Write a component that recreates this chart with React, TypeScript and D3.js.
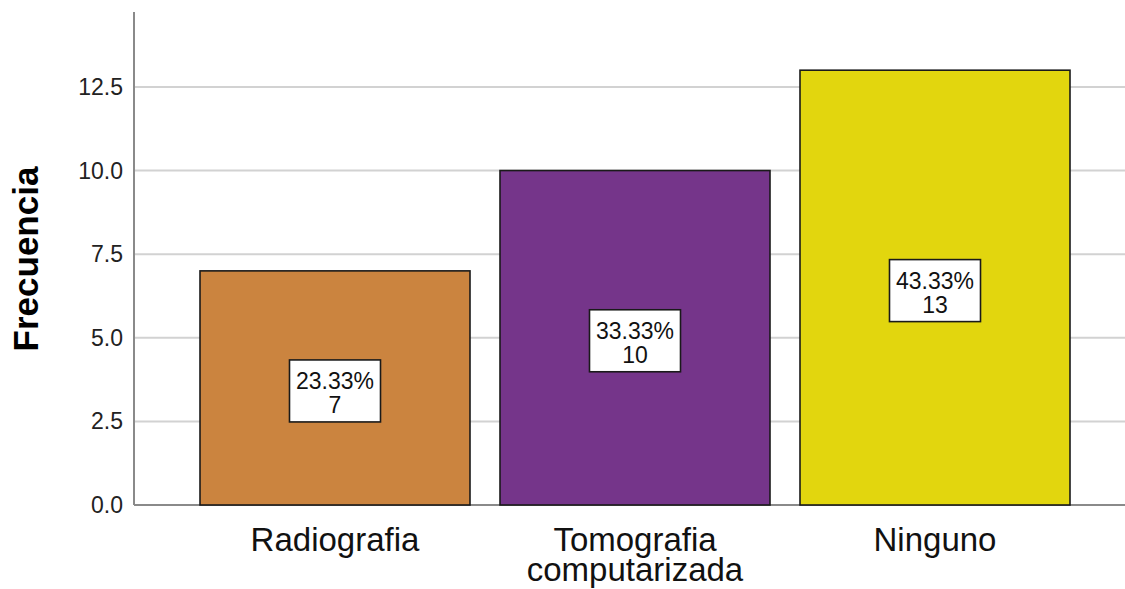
import React from 'react'
import * as d3 from 'd3'

const categories = ['Radiografia', 'Tomografia\ncomputarizada', 'Ninguno']
const counts = [7, 10, 13]
const percents = ['23.33%', '33.33%', '43.33%']
const colors = ['#CB843F', '#75358A', '#E2D60E']
const yTicks = [0, 2.5, 5, 7.5, 10, 12.5]

const W = 1125
const H = 589
const left = 134
const bottom = 505

export default function App() {
  const x = d3
    .scaleBand<string>()
    .domain(categories)
    .range([left, 1136])
    .paddingInner(0.1)
    .paddingOuter(0.22)

  const y = d3.scaleLinear().domain([0, 14.74]).range([bottom, 12])

  return (
    <svg
      width={W}
      height={H}
      style={{ position: 'absolute', left: 0, top: 0, background: '#fff' }}
      fontFamily="'Liberation Sans', Arial, sans-serif"
    >
      {yTicks.filter(t => t > 0).map(t => (
        <line key={t} x1={left} x2={W} y1={y(t)} y2={y(t)} stroke="#d2d2d2" strokeWidth={2} />
      ))}
      <line x1={left} x2={W} y1={bottom} y2={bottom} stroke="#8a8a8a" strokeWidth={2} />
      <line x1={left} x2={left} y1={y.range()[1]} y2={bottom} stroke="#8a8a8a" strokeWidth={2} />

      {yTicks.map(t => (
        <text key={t} x={123} y={y(t) + 8} textAnchor="end" fontSize={23} fill="#222">
          {t.toFixed(1)}
        </text>
      ))}

      <text
        transform={`translate(38, ${259}) rotate(-90)`}
        textAnchor="middle"
        fontSize={35}
        fontWeight="bold"
        fill="#000"
      >
        Frecuencia
      </text>

      {categories.map((c, i) => {
        const bx = x(c) as number
        const bw = x.bandwidth()
        const cx = bx + bw / 2
        const cy = y(counts[i] / 2) + 3
        return (
          <g key={c}>
            <rect
              x={bx}
              y={y(counts[i])}
              width={bw}
              height={bottom - y(counts[i])}
              fill={colors[i]}
              stroke="#1a1a1a"
              strokeWidth={1.6}
            />
            <rect x={cx - 45.5} y={cy - 31} width={91} height={62} fill="#fff" stroke="#1a1a1a" strokeWidth={1.6} />
            <text x={cx} y={cy - 2} textAnchor="middle" fontSize={23} fill="#111">
              {percents[i]}
            </text>
            <text x={cx} y={cy + 22} textAnchor="middle" fontSize={23} fill="#111">
              {counts[i]}
            </text>
            {c.split('\n').map((line, j) => (
              <text key={j} x={cx} y={551 + j * 30} textAnchor="middle" fontSize={33} fill="#111">
                {line}
              </text>
            ))}
          </g>
        )
      })}
    </svg>
  )
}
